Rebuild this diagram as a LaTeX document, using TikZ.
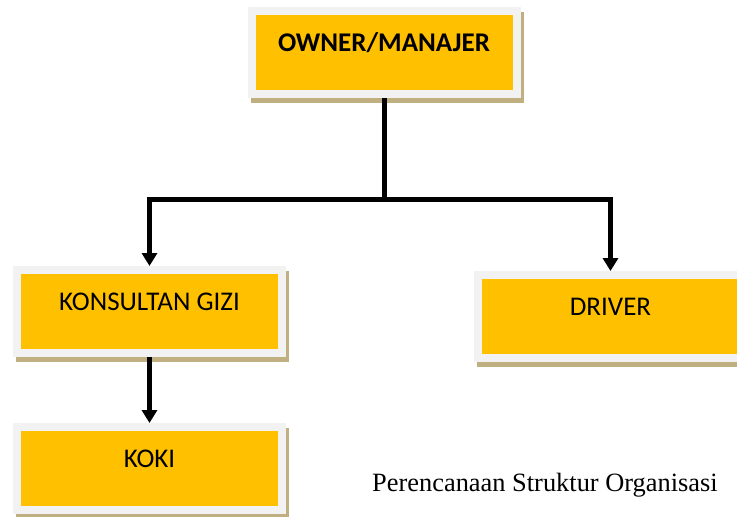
\documentclass[tikz,border=0pt]{standalone}
\usepackage{fontspec}
\usepackage{color}
\usepackage{tikz}
\usetikzlibrary{positioning, arrows.meta, shadows}

\setmainfont{Liberation Serif}
\newfontfamily\boxfont{Carlito}
\definecolor{boxgold}{RGB}{255,192,0}
\definecolor{framegray}{RGB}{242,242,242}
\definecolor{shadowtan}{RGB}{192,175,128}

\begin{document}
\begin{tikzpicture}[node distance=3cm,on grid,
    post/.style={rectangle,fill=boxgold,draw=framegray,line width=8pt,
      minimum width=265pt,minimum height=83pt,text height=19pt,text depth=21pt,
      font=\boxfont\fontsize{27}{32}\selectfont,
      drop shadow={shadow xshift=3pt,shadow yshift=-5pt,fill=shadowtan,
        draw=shadowtan,line width=8pt,opacity=1}},
    line/.style={line width=5pt},
    arrow/.style={line width=5pt,-{Triangle[width=15pt,length=13pt]}}]
      \useasboundingbox (0,0) rectangle (737pt,-517pt);
      \node[post] (owner) at (384pt,-52.5pt) {\bfseries OWNER/MANAJER};
      \node[post] (konsultan) [below left=259pt and 234.5pt of owner] {KONSULTAN GIZI};
      \node[post] (driver) [below right=264pt and 226.5pt of owner] {DRIVER};
      \node[post] (koki) [below=157pt of konsultan] {KOKI};
      \node[font=\fontsize{26.4}{32}\selectfont] (caption) [below right=17pt and 395.5pt of koki]
        {Perencanaan Struktur Organisasi};
      \coordinate[below=146.5pt of owner] (bar);
      \draw[line] (owner.south) -- (bar);
      \draw[arrow] (bar) -| (konsultan.north);
      \draw[arrow] (bar) -| (driver.north);
      \draw[arrow] (konsultan.south) -- (koki.north);
    \end{tikzpicture}
\end{document}
